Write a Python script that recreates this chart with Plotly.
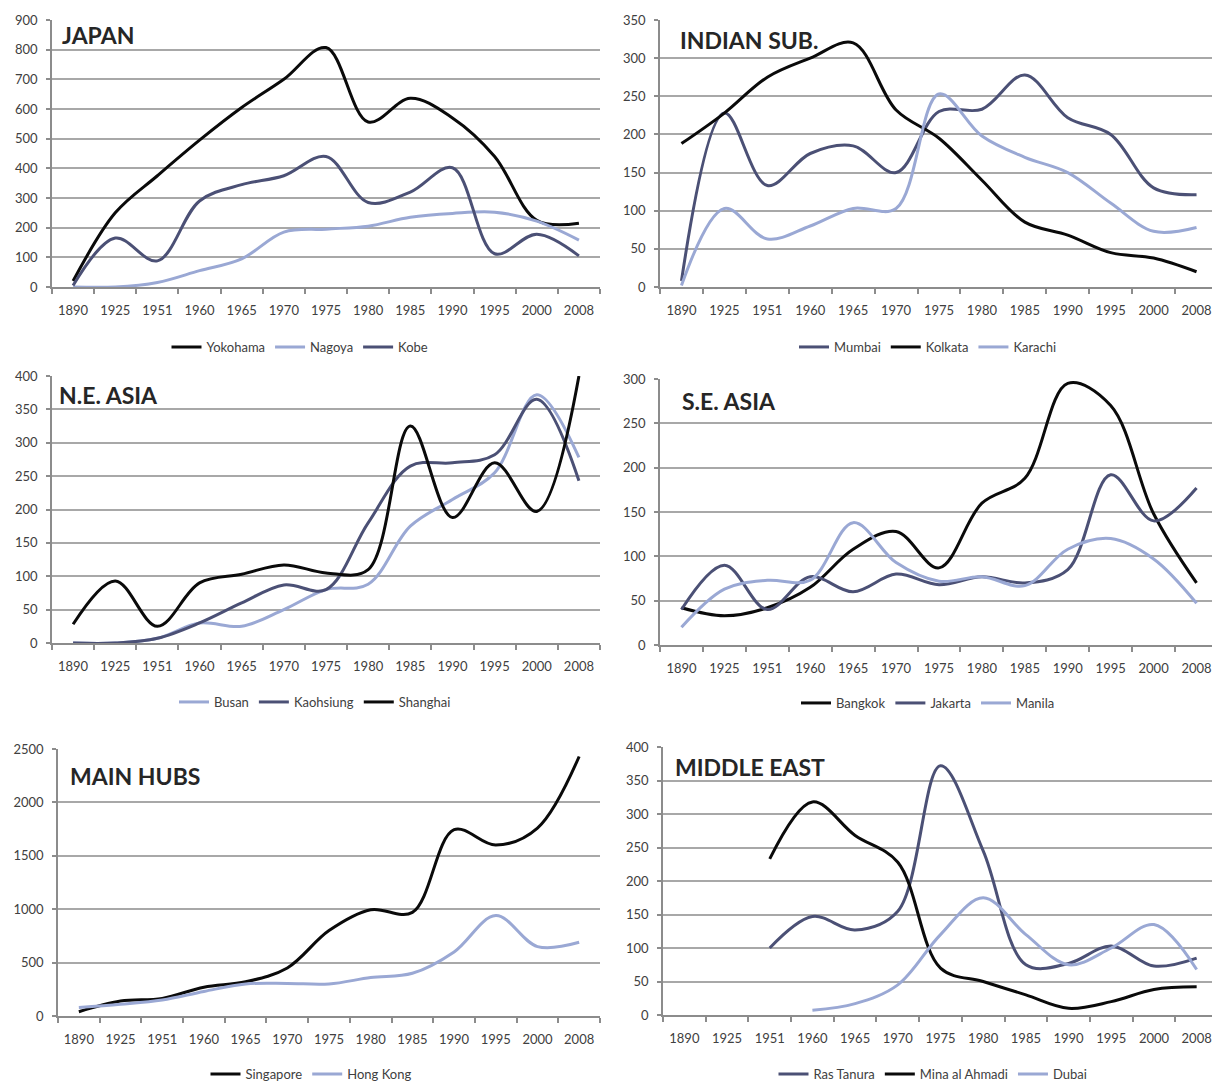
import plotly.graph_objects as go

# the page body has a default 8px margin; the figure fills the rest of the 1220x1086 window
OFF = 8
W, H = 1220 - OFF, 1086 - OFF

years = ["1890", "1925", "1951", "1960", "1965", "1970", "1975", "1980", "1985", "1990", "1995", "2000", "2008"]

# JAPAN
yokohama = [20, 250, 375, 495, 605, 700, 807, 556, 636, 570, 440, 225, 215]
nagoya = [0, 0, 15, 55, 95, 185, 195, 205, 235, 248, 252, 222, 158]
kobe = [5, 165, 88, 290, 345, 375, 440, 285, 320, 402, 112, 178, 105]

# INDIAN SUB.
mumbai = [8, 228, 133, 175, 185, 150, 230, 233, 278, 222, 200, 130, 121]
kolkata = [188, 228, 275, 300, 320, 232, 195, 140, 85, 68, 45, 38, 20]
karachi = [2, 103, 63, 80, 103, 103, 253, 198, 170, 150, 110, 73, 78]

# N.E. ASIA
busan = [0, 0, 7, 30, 25, 50, 80, 88, 175, 215, 255, 372, 278]
kaohsiung = [0, 0, 7, 30, 60, 87, 80, 180, 265, 270, 282, 365, 243]
shanghai = [28, 93, 25, 90, 103, 117, 105, 110, 325, 188, 270, 197, 400]

# S.E. ASIA
bangkok = [42, 33, 42, 65, 108, 128, 87, 160, 188, 295, 270, 148, 70]
jakarta = [40, 90, 40, 77, 60, 80, 68, 77, 70, 85, 192, 140, 177]
manila = [20, 63, 73, 73, 138, 93, 72, 77, 67, 108, 120, 97, 47]

# MAIN HUBS
singapore = [40, 140, 165, 270, 320, 450, 800, 995, 970, 1745, 1600, 1760, 2430]
hong_kong = [80, 110, 150, 230, 300, 305, 300, 360, 400, 600, 940, 650, 690]

# MIDDLE EAST
ras_tanura = [None, None, 100, 147, 127, 155, 372, 245, 75, 77, 103, 73, 85]
mina_al_ahmadi = [None, None, 233, 318, 268, 228, 70, 50, 30, 10, 20, 38, 42]
dubai = [None, None, None, 7, 17, 45, 120, 175, 120, 75, 100, 135, 68]

BLACK = "#0a0a0a"
DARK = "#4b5075"
LIGHT = "#9aa8d4"

FONT = "Lato"


def px(x):
    return (x - OFF) / W


def py(y):
    return 1 - (y - OFF) / H


panels = [
    ("JAPAN", [("Yokohama", yokohama, BLACK), ("Nagoya", nagoya, LIGHT), ("Kobe", kobe, DARK)],
     900, 100, (52, 600, 20, 287), (60, 35), (300, 347)),
    ("INDIAN SUB.", [("Mumbai", mumbai, DARK), ("Kolkata", kolkata, BLACK), ("Karachi", karachi, LIGHT)],
     350, 50, (660, 1218, 20, 287), (678, 40), (928, 347)),
    ("N.E. ASIA", [("Busan", busan, LIGHT), ("Kaohsiung", kaohsiung, DARK), ("Shanghai", shanghai, BLACK)],
     400, 50, (52, 600, 376, 643), (57, 395), (315, 702)),
    ("S.E. ASIA", [("Bangkok", bangkok, BLACK), ("Jakarta", jakarta, DARK), ("Manila", manila, LIGHT)],
     300, 50, (660, 1218, 379, 645), (680, 401), (928, 703)),
    ("MAIN HUBS", [("Singapore", singapore, BLACK), ("Hong Kong", hong_kong, LIGHT)],
     2500, 500, (58, 600, 749, 1016), (68, 776), (311, 1075)),
    ("MIDDLE EAST", [("Ras Tanura", ras_tanura, DARK), ("Mina al Ahmadi", mina_al_ahmadi, BLACK), ("Dubai", dubai, LIGHT)],
     400, 50, (663, 1218, 747, 1015), (673, 767), (933, 1075)),
]

fig = go.Figure()
layout = dict(
    width=W, height=H,
    margin=dict(l=0, r=0, t=0, b=0, autoexpand=False),
    paper_bgcolor="white", plot_bgcolor="white",
    font=dict(family=FONT, size=12, color="#404040"),
    annotations=[],
)

for i, (title, series, ymax, dtick, box, tpos, lpos) in enumerate(panels):
    n = i + 1
    xa = "xaxis" if n == 1 else f"xaxis{n}"
    ya = "yaxis" if n == 1 else f"yaxis{n}"
    xr = "x" if n == 1 else f"x{n}"
    yr = "y" if n == 1 else f"y{n}"
    lg = "legend" if n == 1 else f"legend{n}"
    x0, x1, yt, yb = box
    for name, vals, col in series:
        fig.add_trace(go.Scatter(
            x=years, y=vals, name=name, mode="lines",
            line=dict(color=col, width=3, shape="spline", smoothing=1.0),
            xaxis=xr, yaxis=yr, legend=lg, connectgaps=False,
        ))
    layout[xa] = dict(
        domain=[px(x0), min(px(x1), 1.0)], anchor=yr, type="category",
        categoryorder="array", categoryarray=years,
        range=[-0.5, len(years) - 0.5], automargin=False,
        showgrid=False, zeroline=False, showline=True, linecolor="#8c8c8c", linewidth=1.5,
        ticks="outside", tickson="boundaries", ticklen=5, tickcolor="#8c8c8c", tickwidth=1.5,
        ticklabelstandoff=11,
        tickfont=dict(family=FONT, size=13, color="#404040"), fixedrange=True,
    )
    layout[ya] = dict(
        domain=[py(yb), py(yt)], anchor=xr, range=[0, ymax], dtick=dtick, automargin=False,
        showgrid=True, gridcolor="#a8a8a8", gridwidth=2, zeroline=False,
        showline=True, linecolor="#8c8c8c", linewidth=1.5,
        ticks="outside", ticklen=4, tickcolor="#8c8c8c", tickwidth=1.5,
        ticklabelstandoff=6,
        tickfont=dict(family=FONT, size=13, color="#404040"), fixedrange=True,
    )
    layout[lg] = dict(
        orientation="h", x=px(lpos[0]), xanchor="center",
        y=max(py(lpos[1]), 0.011), yanchor="middle", bgcolor="rgba(0,0,0,0)",
        font=dict(family=FONT, size=13, color="#404040"), itemwidth=30,
    )
    layout["annotations"].append(dict(
        text=f"<b>{title}</b>", xref="paper", yref="paper",
        x=px(tpos[0]), y=py(tpos[1]), xanchor="left", yanchor="middle",
        showarrow=False, font=dict(family=FONT, size=23, color="#262626"),
    ))

fig.update_layout(**layout)
fig.write_html("out.html")
